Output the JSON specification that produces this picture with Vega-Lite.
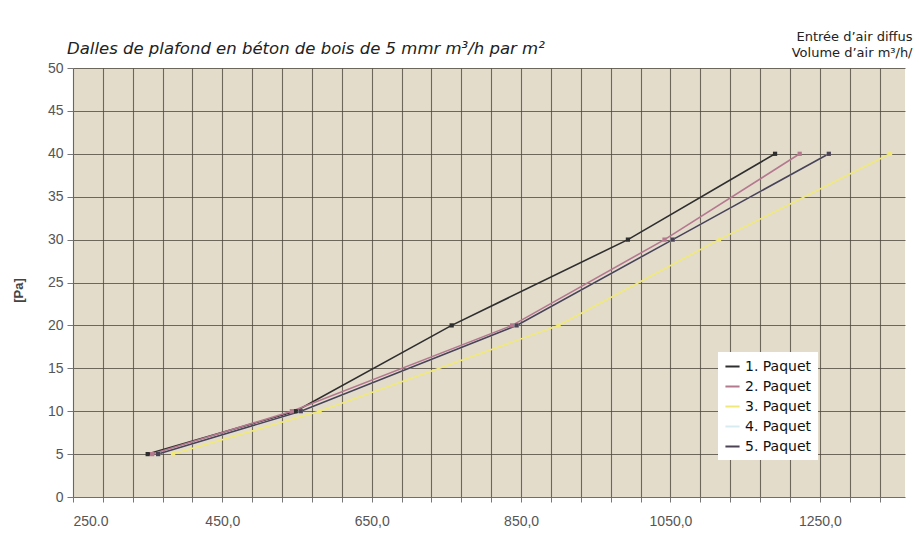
{
  "$schema": "https://vega.github.io/schema/vega-lite/v6.json",
  "autosize": {"type": "none"},
  "padding": {"left": 73, "top": 68, "right": 14, "bottom": 39},
  "width": 832,
  "height": 429,
  "background": "white",
  "title": {
    "text": "Dalles de plafond en béton de bois de 5 mmr m³/h par m²",
    "anchor": "start",
    "frame": "group",
    "dx": -6,
    "offset": -27,
    "font": "DejaVu Sans",
    "fontSize": 16.5,
    "fontStyle": "italic",
    "fontWeight": "normal",
    "color": "#222222"
  },
  "data": {
    "values": [
      {"s": "1. Paquet", "x": 350, "y": 5},
      {"s": "1. Paquet", "x": 548, "y": 10},
      {"s": "1. Paquet", "x": 757, "y": 20},
      {"s": "1. Paquet", "x": 993, "y": 30},
      {"s": "1. Paquet", "x": 1190, "y": 40},
      {"s": "2. Paquet", "x": 356, "y": 5},
      {"s": "2. Paquet", "x": 543, "y": 10},
      {"s": "2. Paquet", "x": 838, "y": 20},
      {"s": "2. Paquet", "x": 1042, "y": 30},
      {"s": "2. Paquet", "x": 1223, "y": 40},
      {"s": "3. Paquet", "x": 384, "y": 5},
      {"s": "3. Paquet", "x": 580, "y": 10},
      {"s": "3. Paquet", "x": 900, "y": 20},
      {"s": "3. Paquet", "x": 1115, "y": 30},
      {"s": "3. Paquet", "x": 1344, "y": 40},
      {"s": "4. Paquet", "x": 364, "y": 5},
      {"s": "4. Paquet", "x": 555, "y": 10},
      {"s": "4. Paquet", "x": 844, "y": 20},
      {"s": "4. Paquet", "x": 1053, "y": 30},
      {"s": "4. Paquet", "x": 1262, "y": 40},
      {"s": "5. Paquet", "x": 364, "y": 5},
      {"s": "5. Paquet", "x": 555, "y": 10},
      {"s": "5. Paquet", "x": 844, "y": 20},
      {"s": "5. Paquet", "x": 1053, "y": 30},
      {"s": "5. Paquet", "x": 1262, "y": 40}
    ]
  },
  "mark": {"type": "line", "strokeWidth": 1.6, "point": {"filled": true, "size": 18, "shape": "square"}},
  "encoding": {
    "x": {
      "field": "x",
      "type": "quantitative",
      "scale": {"domain": [250, 1364], "nice": false, "zero": false},
      "axis": {
        "values": [250, 290, 330, 370, 410, 450, 490, 530, 570, 610, 650, 690, 730, 770, 810, 850, 890, 930, 970, 1010, 1050, 1090, 1130, 1170, 1210, 1250, 1290, 1330],
        "labelExpr": "datum.value == 250 ? '250.0' : ((datum.value - 250) % 200 == 0 ? replace(format(datum.value, '.1f'), '.', ',') : '')",
        "labelOverlap": false,
        "labelFont": "Liberation Sans",
        "labelFontSize": 14,
        "labelColor": "#555555",
        "labelPadding": 12,
        "tickSize": 5,
        "tickColor": "#777777",
        "domain": false,
        "grid": true,
        "gridColor": "#4f493e",
        "gridOpacity": 0.8,
        "gridWidth": 1.1,
        "title": ["Entrée d’air diffus", "Volume d’air m³/h/"],
        "titleFont": "DejaVu Sans",
        "titleFontSize": 13,
        "titleFontWeight": "normal",
        "titleColor": "#222222",
        "titleAlign": "right",
        "titleAnchor": "end",
        "titleBaseline": "alphabetic",
        "titleLineHeight": 16,
        "titleX": 839,
        "titleY": -457
      }
    },
    "y": {
      "field": "y",
      "type": "quantitative",
      "scale": {"domain": [0, 50], "nice": false},
      "axis": {
        "values": [0, 5, 10, 15, 20, 25, 30, 35, 40, 45, 50],
        "labelFont": "Liberation Sans",
        "labelFontSize": 14,
        "labelColor": "#555555",
        "labelPadding": 4,
        "tickSize": 6,
        "tickColor": "#777777",
        "domain": false,
        "grid": true,
        "gridColor": "#4f493e",
        "gridOpacity": 0.8,
        "gridWidth": 1.1,
        "title": "[Pa]",
        "titleFont": "Liberation Sans",
        "titleFontSize": 13,
        "titleFontWeight": "bold",
        "titleColor": "#444444",
        "titleAngle": -90,
        "titleAlign": "center",
        "titleBaseline": "middle",
        "titleX": -55,
        "titleY": 222
      }
    },
    "color": {
      "field": "s",
      "type": "nominal",
      "scale": {
        "domain": ["1. Paquet", "2. Paquet", "3. Paquet", "4. Paquet", "5. Paquet"],
        "range": ["#2e2e2e", "#b4788f", "#f0e97a", "#d6ecf0", "#4b4254"]
      },
      "legend": {
        "title": null,
        "orient": "none",
        "legendX": 645,
        "legendY": 284,
        "fillColor": "white",
        "padding": 6,
        "labelFont": "DejaVu Sans",
        "labelFontSize": 14,
        "labelColor": "#111111",
        "symbolType": "stroke",
        "symbolSize": 200,
        "symbolStrokeWidth": 2,
        "rowPadding": 4
      }
    }
  },
  "config": {
    "view": {"stroke": null, "fill": "#e3dccb"}
  }
}
